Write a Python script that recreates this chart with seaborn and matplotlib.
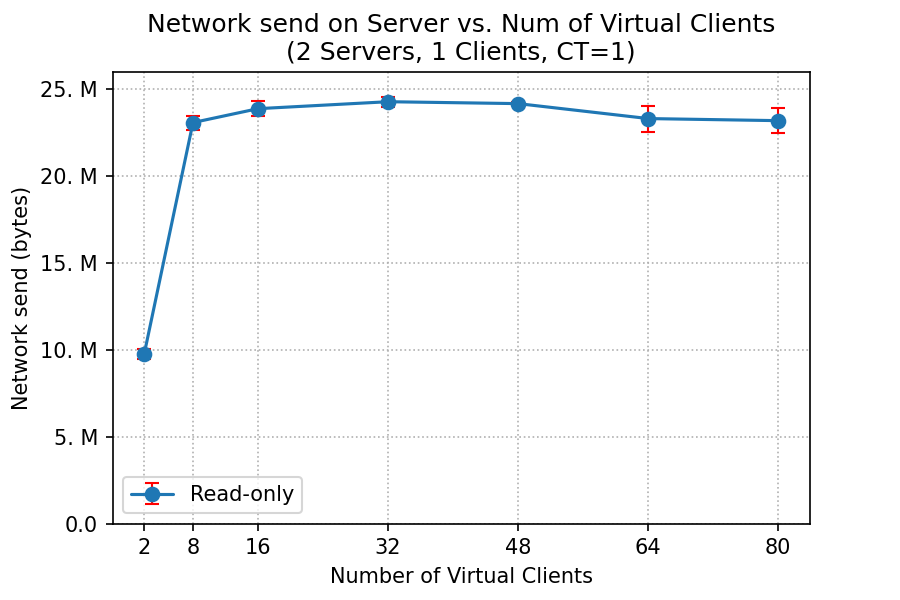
import numpy as np
import pandas as pd
import matplotlib
matplotlib.use('Agg')
import matplotlib.pyplot as plt
import seaborn as sns
from matplotlib.container import ErrorbarContainer

clients = [2, 8, 16, 32, 48, 64, 80]
send_mean = [9.77e6, 23.09e6, 23.89e6, 24.29e6, 24.18e6, 23.32e6, 23.20e6]
send_err = [0.27e6, 0.40e6, 0.45e6, 0.29e6, 0.10e6, 0.75e6, 0.72e6]
ytick_vals = [0, 5e6, 10e6, 15e6, 20e6, 25e6]
ytick_labels = ['0.0', '5. M', '10. M', '15. M', '20. M', '25. M']

df = pd.DataFrame({'clients': clients, 'send': send_mean, 'err': send_err})

sns.set_style('ticks', rc={'text.color': 'black', 'axes.labelcolor': 'black',
                           'xtick.color': 'black', 'ytick.color': 'black',
                           'axes.edgecolor': 'black',
                           'xtick.major.size': 3.5, 'ytick.major.size': 3.5})
plt.rcParams['font.family'] = ['DejaVu Sans']

fig, ax = plt.subplots(figsize=(6, 4), dpi=150)
fig.subplots_adjust(left=0.125, right=0.9, top=0.88, bottom=0.127)

sns.lineplot(data=df, x='clients', y='send', marker='o', markersize=7.5,
             markeredgewidth=0, color='#1f77b4', linewidth=1.5, ax=ax, zorder=3)
eb = ax.errorbar(df['clients'], df['send'], yerr=df['err'], fmt='none',
                 ecolor='red', capsize=3.5, elinewidth=1, zorder=2)

line = ax.get_lines()[0]
handle = ErrorbarContainer((line, eb.lines[1], eb.lines[2]), has_xerr=False, has_yerr=True)
ax.legend([handle], ['Read-only'], loc='lower left')

ax.set_xticks(clients)
ax.set_yticks(ytick_vals)
ax.set_yticklabels(ytick_labels)
ax.margins(x=0.05)
ax.set_ylim(0, 26e6)
ax.grid(True, linestyle=':', color='#b0b0b0', linewidth=0.8)
for s in ax.spines.values():
    s.set_visible(True)
    s.set_linewidth(0.8)

ax.set_xlabel('Number of Virtual Clients')
ax.set_ylabel('Network send (bytes)')
ax.set_title('Network send on Server vs. Num of Virtual Clients\n(2 Servers, 1 Clients, CT=1)')

fig.savefig('out.png')
